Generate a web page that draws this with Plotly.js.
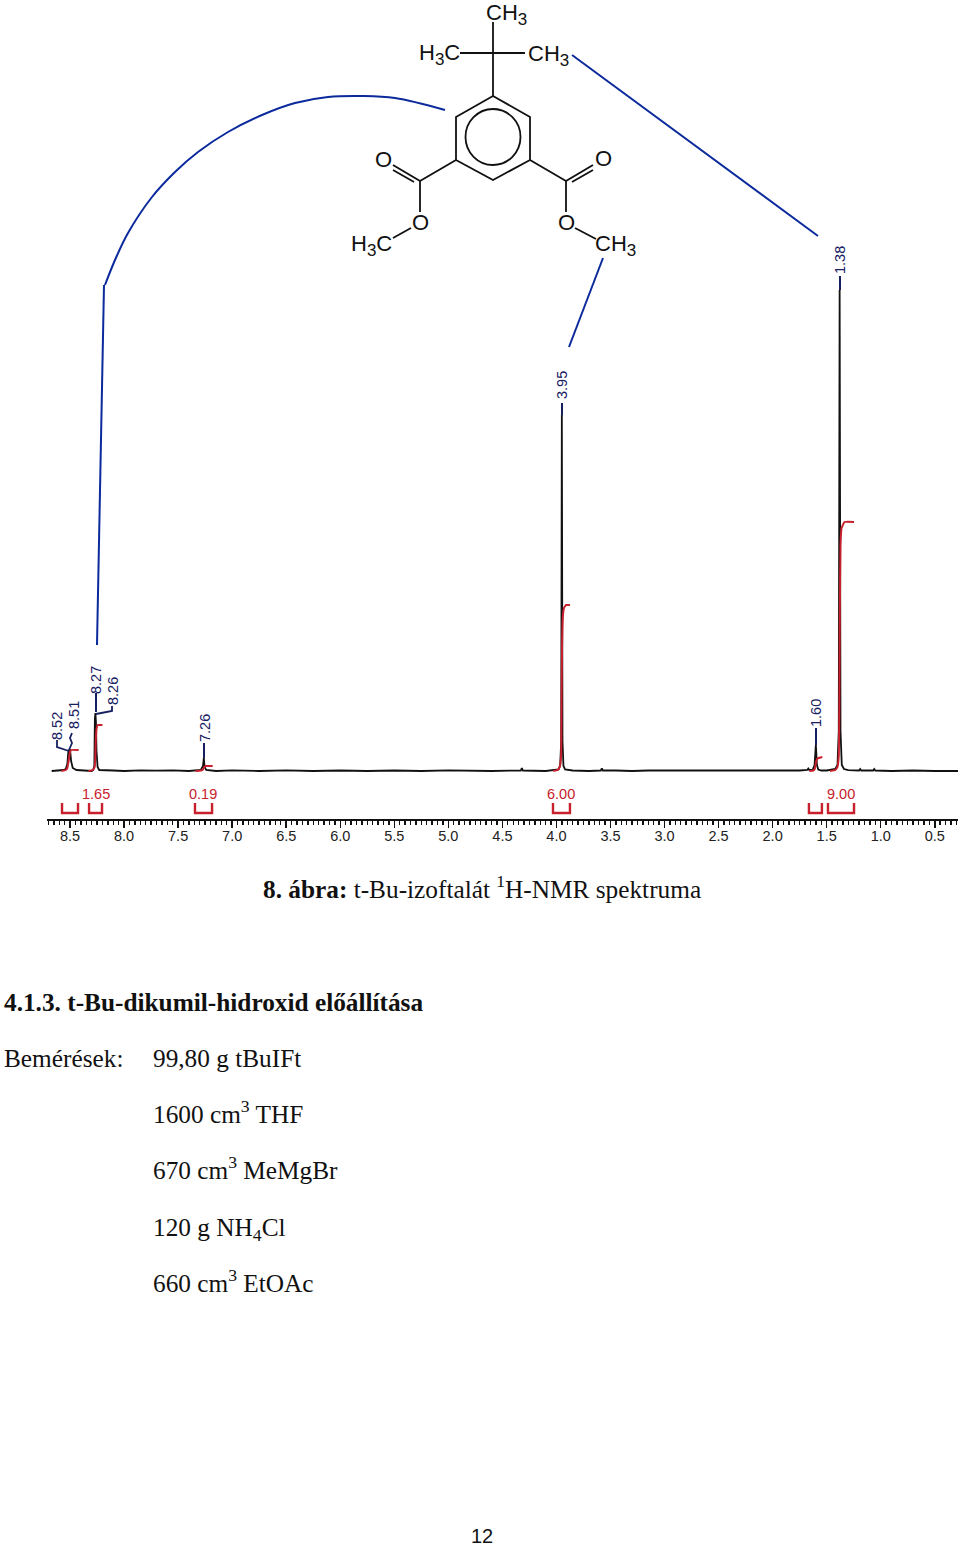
<!DOCTYPE html>
<html>
<head>
<meta charset="utf-8">
<script src="https://cdn.plot.ly/plotly-3.0.1.min.js"></script>
<style>body { margin: 0; background: #fff; }</style>
</head>
<body>
<div id="chart" style="width:960px;height:1547px"></div>
<script>
// spectrum trace, ppm against intensity (baseline = 0)
var specPpm = [8.67, 8.60, 8.56, 8.54, 8.525, 8.515, 8.51, 8.505, 8.50, 8.49, 8.475, 8.44, 8.38, 8.30, 8.285, 8.275, 8.27, 8.265, 8.26, 8.255, 8.245, 8.23, 8.1, 8.0, 7.85, 7.7, 7.55, 7.4, 7.29, 7.27, 7.262, 7.255, 7.24, 7.15, 7.0, 6.75, 6.5, 6.25, 6.0, 5.75, 5.5, 5.25, 5.0, 4.8, 4.6, 4.33, 4.32, 4.31, 4.1, 3.98, 3.965, 3.956, 3.95, 3.944, 3.935, 3.92, 3.85, 3.7, 3.59, 3.58, 3.57, 3.45, 3.3, 3.15, 3.0, 2.75, 2.5, 2.25, 2.0, 1.85, 1.75, 1.68, 1.67, 1.66, 1.63, 1.612, 1.60, 1.59, 1.578, 1.55, 1.50, 1.42, 1.40, 1.388, 1.38, 1.372, 1.36, 1.34, 1.30, 1.20, 1.19, 1.18, 1.07, 1.06, 1.05, 0.9, 0.7, 0.5, 0.285];
var specInt = [0, 0.5, 1, 2, 7, 20, 21, 18, 22, 10, 3, 1, 0.5, 0, 1, 5, 52, 58, 48, 20, 4, 1, 0.5, 0, 0.7, 0.3, 0.7, 0, 1, 5, 13, 4, 1, 0, 0.6, 0, 0.6, 0, 0.5, 0, 0.5, 0, 0.6, 0, 0, 0.5, 3, 0.5, 0, 1.5, 6, 30, 356, 30, 5, 1.5, 0.5, 0, 0.5, 2.5, 0.5, 0.5, 0, 0.5, 0.5, 0, 0.5, 0, 0.5, 0, 0.5, 1, 2.5, 1, 1, 6, 26, 6, 1.5, 0.5, 0.5, 2, 6, 40, 481, 40, 6, 2, 0.8, 0.5, 2, 0.5, 0.5, 2, 0.5, 0, 0.5, 0, 0];

// integral curves, one pair of arrays per region
var intAPpm = [8.58, 8.54, 8.525, 8.51, 8.50, 8.49, 8.42];
var intAVal = [0, 1, 3, 12, 19, 21, 21];
var intBPpm = [8.33, 8.29, 8.272, 8.266, 8.262, 8.255, 8.245, 8.20];
var intBVal = [0, 1, 4, 14, 30, 42, 46, 46];
var intCPpm = [7.34, 7.29, 7.27, 7.258, 7.245, 7.18];
var intCVal = [0, 0.5, 1.5, 4, 5, 5];
var intDPpm = [4.03, 3.99, 3.97, 3.957, 3.953, 3.948, 3.94, 3.93, 3.91, 3.875];
var intDVal = [0, 1, 4, 15, 60, 125, 155, 163, 166, 166];
var intEPpm = [1.66, 1.625, 1.61, 1.60, 1.59, 1.575, 1.54];
var intEVal = [0, 0.5, 2, 8, 12, 13, 14];
var intFPpm = [1.47, 1.42, 1.40, 1.388, 1.383, 1.378, 1.372, 1.362, 1.335, 1.247];
var intFVal = [0, 1, 4, 15, 60, 160, 225, 243, 249, 249];

// integral regions drawn as brackets under the baseline
var regionFrom = [8.574, 8.324, 7.344, 4.032, 1.664, 1.488];
var regionTo = [8.426, 8.204, 7.186, 3.875, 1.544, 1.247];
var integralLabels = ["1.65", "0.19", "6.00", "9.00"];
var peakLabels = ["8.52", "8.51", "8.27", "8.26", "7.26", "3.95", "1.60", "1.38"];

var axisTicks = [8.5, 8.0, 7.5, 7.0, 6.5, 6.0, 5.5, 5.0, 4.5, 4.0, 3.5, 3.0, 2.5, 2.0, 1.5, 1.0, 0.5];

var black = "#111111";
var red = "#c8202c";
var navy = "#17205f";
var blue = "#0b2a9c";

var traces = [];
function integral(xs, ys) {
  traces.push({x: xs, y: ys, mode: "lines", line: {color: red, width: 2, shape: "spline", smoothing: 0.3}, hoverinfo: "skip"});
}

// spectrum first, red integrals on top of it
traces.push({x: specPpm, y: specInt, mode: "lines", line: {color: black, width: 1.8}, hoverinfo: "skip"});
integral(intAPpm, intAVal);
integral(intBPpm, intBVal);
integral(intCPpm, intCVal);
integral(intDPpm, intDVal);
integral(intEPpm, intEVal);
integral(intFPpm, intFVal);

for (var i = 0; i < regionFrom.length; i++) {
  traces.push({
    x: [regionFrom[i], regionFrom[i], regionTo[i], regionTo[i]],
    y: [-32, -42, -42, -32],
    mode: "lines",
    line: {color: red, width: 2.4},
    hoverinfo: "skip"
  });
}
// the curved assignment line, in page pixels
traces.push({
  x: [105, 115, 128, 152, 175, 198, 228, 262, 295, 328, 362, 395, 445],
  y: [285, 260, 233, 197, 172, 152, 132, 115, 103, 97, 96, 98, 110],
  xaxis: "x2", yaxis: "y2", mode: "lines",
  line: {color: blue, width: 2, shape: "spline", smoothing: 1},
  hoverinfo: "skip"
});

// page axes are in pixels, used for the drawn molecule and the text around the chart
function path(points, color, width) {
  var d = "";
  for (var i = 0; i < points.length; i++) {
    d += (i == 0 ? "M" : "L") + points[i][0] + "," + points[i][1];
  }
  return {type: "path", path: d, xref: "x2", yref: "y2", line: {color: color, width: width}};
}

var shapes = [
  // ring
  path([[493, 96], [530, 117], [530, 160], [493, 180], [456, 160], [456, 117], [493, 96]], black, 1.8),
  {type: "circle", xref: "x2", yref: "y2", x0: 465.5, x1: 520.5, y0: 109, y1: 165, line: {color: black, width: 1.8}},
  // tert-butyl
  path([[493, 96], [493, 22]], black, 1.8),
  path([[460, 53], [525, 53]], black, 1.8),
  // left ester
  path([[456, 160], [420, 181], [420, 212]], black, 1.8),
  path([[420, 181], [393, 165]], black, 1.8),
  path([[414, 182], [393, 170]], black, 1.8),
  path([[411, 228], [393, 238]], black, 1.8),
  // right ester
  path([[530, 160], [566, 181], [566, 212]], black, 1.8),
  path([[566, 181], [593, 165]], black, 1.8),
  path([[572, 182], [593, 170]], black, 1.8),
  path([[575, 228], [596, 239]], black, 1.8),
  // hand drawn assignment lines
  path([[97, 645], [104, 285]], blue, 2),
  path([[572, 55], [818, 236]], blue, 2),
  path([[603, 258], [569, 347]], blue, 2),
  // peak label leaders
  path([[57, 740], [57, 747], [69, 751]], navy, 1.8),
  path([[72, 733], [70, 738], [72, 743], [69, 750]], navy, 1.8),
  path([[96, 693], [96, 712]], navy, 2),
  path([[96, 714], [112, 711], [112, 706]], navy, 1.8),
  path([[204, 743], [204, 758]], navy, 2),
  path([[562, 403], [562, 415]], navy, 2),
  path([[816, 728], [816, 745]], navy, 2),
  path([[840, 276], [840, 290]], navy, 2)
];

var sans = "Liberation Sans, Arial, sans-serif";
var serif = "Liberation Serif, Times New Roman, serif";

function note(text, x, y, size, family, color, anchor, angle) {
  return {
    text: text, x: x, y: y, xref: "x2", yref: "y2", showarrow: false,
    xanchor: anchor || "center", yanchor: "middle", textangle: angle || 0,
    font: {size: size, family: family, color: color}
  };
}

// subscript a bit larger than the plotly default, as in the drawing
var sub3 = "<sub><span style='font-size:17px'>3</span></sub>";

var peakX = [57, 74, 96, 113, 205, 562, 816, 840];
var peakY = [726, 715, 680, 691, 728, 385, 713, 260];
var integralX = [96, 203, 561, 841];
var bodySize = 25.3;

var annotations = [
  note("CH" + sub3, 506, 14, 22, sans, black),
  note("H" + sub3 + "C", 439, 54, 22, sans, black),
  note("CH" + sub3, 548, 55, 22, sans, black),
  note("O", 383, 159, 22, sans, black),
  note("O", 603, 158, 22, sans, black),
  note("O", 420, 222, 22, sans, black),
  note("O", 566, 222, 22, sans, black),
  note("H" + sub3 + "C", 371, 245, 22, sans, black),
  note("CH" + sub3, 615, 245, 22, sans, black),
  note("<b>8. ábra:</b> t-Bu-izoftalát <sup>1</sup>H-NMR spektruma", 482, 887, bodySize, serif, black),
  note("<b>4.1.3. t-Bu-dikumil-hidroxid előállítása</b>", 2, 1002, bodySize, serif, black, "left"),
  note("Bemérések:", 2, 1058, bodySize, serif, black, "left"),
  note("99,80 g tBuIFt", 151, 1058, bodySize, serif, black, "left"),
  note("1600 cm<sup>3</sup> THF", 151, 1112, bodySize, serif, black, "left"),
  note("670 cm<sup>3</sup> MeMgBr", 151, 1168, bodySize, serif, black, "left"),
  note("120 g NH<sub>4</sub>Cl", 151, 1229, bodySize, serif, black, "left"),
  note("660 cm<sup>3</sup> EtOAc", 151, 1281, bodySize, serif, black, "left"),
  note("12", 482, 1536, 20, sans, black)
];
for (var j = 0; j < peakLabels.length; j++) {
  annotations.push(note(peakLabels[j], peakX[j], peakY[j], 14.5, sans, navy, "center", -90));
}
for (var k = 0; k < integralLabels.length; k++) {
  annotations.push(note(integralLabels[k], integralX[k], 794, 14.5, sans, red));
}

var layout = {
  width: 960,
  height: 1547,
  margin: {l: 0, r: 0, t: 0, b: 0},
  showlegend: false,
  paper_bgcolor: "#ffffff",
  plot_bgcolor: "rgba(0,0,0,0)",
  // 108.1 px per ppm, 8.5 sits at x=70
  xaxis: {
    domain: [47 / 960, 958 / 960],
    range: [8.713, 0.285],
    anchor: "y",
    showgrid: false,
    zeroline: false,
    showline: true,
    linecolor: black,
    linewidth: 2,
    ticks: "outside",
    ticklen: 7,
    tickwidth: 1.5,
    tickcolor: black,
    tickvals: axisTicks,
    ticktext: axisTicks.map(function(a) { return a.toFixed(1); }),
    tickfont: {size: 14.5, family: sans, color: "#222222"},
    ticklabelstandoff: -4,
    minor: {dtick: 0.05, tick0: 0.5, ticks: "outside", ticklen: 4, tickwidth: 1.4, tickcolor: black, showgrid: false}
  },
  yaxis: {
    domain: [(1547 - 819) / 1547, 1],
    range: [-48, 771],
    anchor: "x",
    visible: false
  },
  xaxis2: {domain: [0, 1], range: [0, 960], anchor: "y2", visible: false},
  yaxis2: {domain: [0, 1], range: [1547, 0], anchor: "x2", visible: false},
  shapes: shapes,
  annotations: annotations
};

Plotly.newPlot("chart", traces, layout, {displayModeBar: false, staticPlot: true});
</script>
</body>
</html>
